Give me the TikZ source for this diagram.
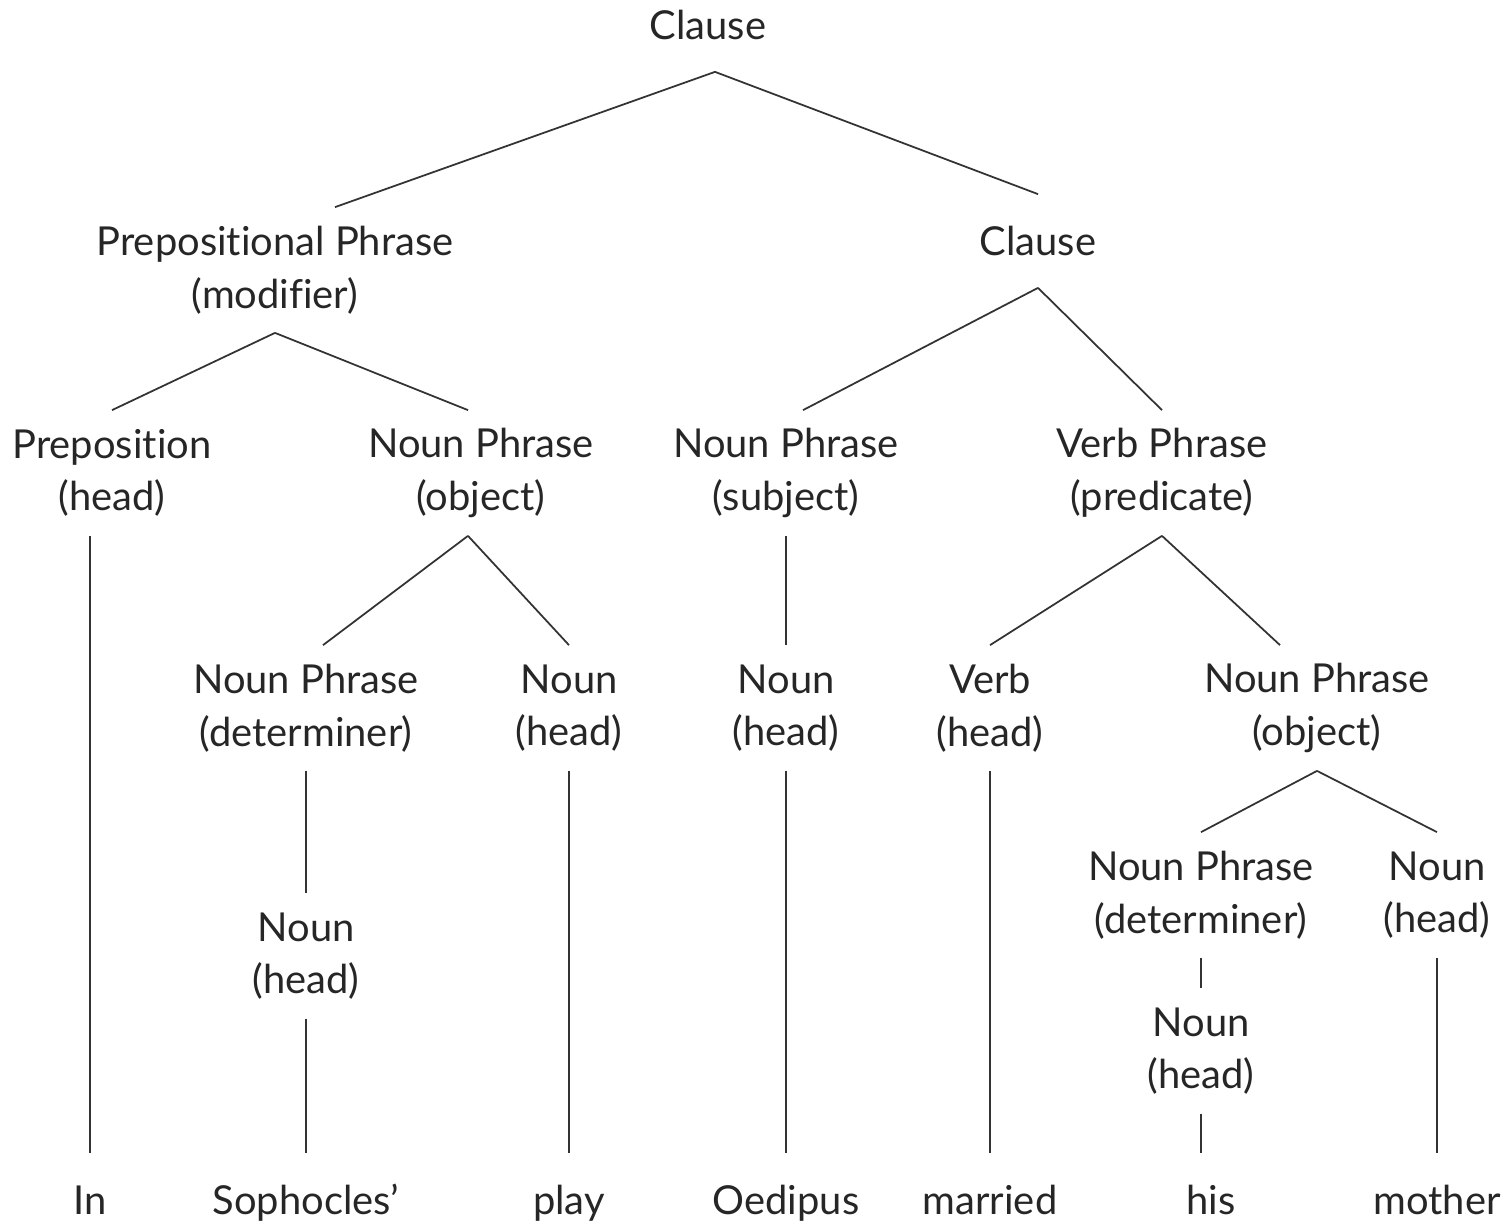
\documentclass[tikz,border=0pt]{standalone}
\usepackage{fontspec}
\setmainfont{Lato}[Ligatures = NoCommon]

\begin{document}
\begin{tikzpicture}[x = 0.02cm, y = -0.02cm, line width = 1pt, color = black!80,
    every node/.style = {text = black!85, inner sep = 0pt, align = center,
        font = \fontsize{22.7pt}{30pt}\selectfont},
    oneline/.style = {minimum height = 1.84cm, text height = 19.5pt, text depth = 2.5pt},
    twoline/.style = {minimum height = 2.48cm}]
    \useasboundingbox (0, 0) rectangle (1511, 1224);
    % phrase level
    \node [oneline] (clause) at (708, 25) {Clause};
    \node [twoline] (pp) at (275, 270) {Prepositional Phrase\\(modifier)};
    \node [oneline] (clausetwo) at (1038, 241) {Clause};
    \node [twoline] (prep) at (112, 473) {Preposition\\(head)};
    \node [twoline] (npobj) at (481, 473) {Noun Phrase\\(object)};
    \node [twoline] (npsubj) at (786, 473) {Noun Phrase\\(subject)};
    \node [twoline] (vp) at (1162, 473) {Verb Phrase\\(predicate)};
    \node [twoline] (npdet) at (306, 708) {Noun Phrase\\(determiner)};
    \node [twoline] (nounplay) at (569, 708) {Noun\\(head)};
    \node [twoline] (nounsubj) at (786, 708) {Noun\\(head)};
    \node [twoline] (verb) at (990, 708) {Verb\\(head)};
    \node [twoline] (npobjtwo) at (1317, 708) {Noun Phrase\\(object)};
    \node [twoline] (npdettwo) at (1201, 895) {Noun Phrase\\(determiner)};
    \node [twoline] (nounmother) at (1437, 895) {Noun\\(head)};
    \node [twoline] (nounsoph) at (306, 956) {Noun\\(head)};
    \node [twoline] (nounhis) at (1201, 1051) {Noun\\(head)};
    % words
    \node [oneline] (wIn) at (90, 1200) {In};
    \node [oneline] (wSoph) at (306, 1200) {Sophocles'};
    \node [oneline] (wPlay) at (569, 1200) {play};
    \node [oneline] (wOed) at (786, 1200) {Oedipus};
    \node [oneline] (wMarried) at (990, 1200) {married};
    \node [oneline] (wHis) at (1211, 1200) {his};
    \node [oneline] (wMother) at (1437, 1200) {mother};
    % branches
    \draw ([xshift = 0.14cm]clause.south) -- ([xshift = 1.2cm]pp.north);
    \draw ([xshift = 0.14cm]clause.south) -- (clausetwo.north);
    \draw (pp.south) -- (prep.north);
    \draw (pp.south) -- ([xshift = -0.26cm]npobj.north);
    \draw (clausetwo.south) -- ([xshift = 0.34cm]npsubj.north);
    \draw (clausetwo.south) -- (vp.north);
    \draw ([xshift = -0.26cm]npobj.south) -- ([xshift = 0.34cm]npdet.north);
    \draw ([xshift = -0.26cm]npobj.south) -- (nounplay.north);
    \draw (vp.south) -- (verb.north);
    \draw (vp.south) -- ([xshift = -0.74cm]npobjtwo.north);
    \draw (npobjtwo.south) -- (npdettwo.north);
    \draw (npobjtwo.south) -- (nounmother.north);
    % vertical lines
    \draw (prep.south -| wIn.north) -- (wIn.north);
    \draw (npdet.south) -- (nounsoph.north);
    \draw (nounsoph.south) -- (wSoph.north);
    \draw (nounplay.south) -- (wPlay.north);
    \draw (npsubj.south) -- (nounsubj.north);
    \draw (nounsubj.south) -- (wOed.north);
    \draw (verb.south) -- (wMarried.north);
    \draw (npdettwo.south) -- (nounhis.north);
    \draw (nounhis.south) -- (nounhis.south |- wHis.north);
    \draw (nounmother.south) -- (wMother.north);
\end{tikzpicture}
\end{document}
